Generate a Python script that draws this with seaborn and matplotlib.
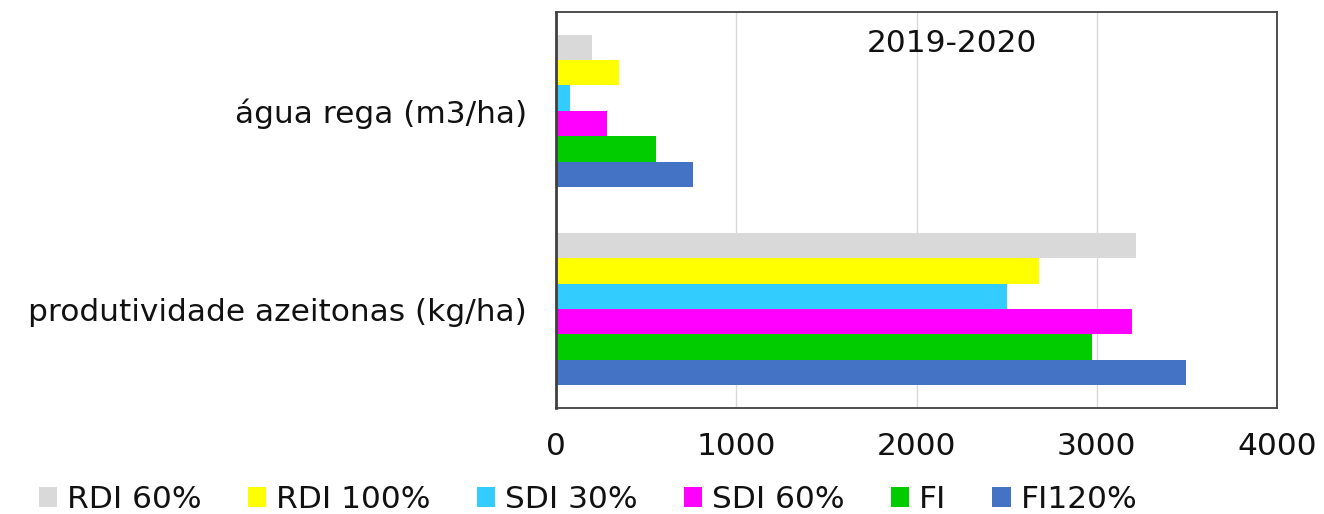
import matplotlib
matplotlib.use("Agg")
import matplotlib.pyplot as plt
import seaborn as sns
import pandas as pd

categories = ["água rega (m3/ha)", "produtividade azeitonas (kg/ha)"]
series = ["RDI 60%", "RDI 100%", "SDI 30%", "SDI 60%", "FI", "FI120%"]
agua_rega = [200, 350, 78, 284, 555, 762]
produtividade = [3218, 2680, 2503, 3196, 2974, 3495]
colors = ["#D9D9D9", "#FFFF00", "#33CCFF", "#FF00FF", "#00CC00", "#4472C4"]
title = "2019-2020"
xticks = [0, 1000, 2000, 3000, 4000]

rows = []
for s, a, p in zip(series, agua_rega, produtividade):
    rows.append({"cat": categories[0], "serie": s, "val": a})
    rows.append({"cat": categories[1], "serie": s, "val": p})
df = pd.DataFrame(rows)

sns.set_theme(style="white")
plt.rcParams["font.family"] = ["DejaVu Sans"]
FS = 22.5

fig = plt.figure(figsize=(13.24, 5.14), dpi=100)
ax = fig.add_axes([0.42, 0.206, 0.5445, 0.771])

sns.barplot(data=df, y="cat", x="val", hue="serie", order=categories,
            hue_order=series, palette=colors, orient="h", width=0.77,
            saturation=1, ax=ax, legend=True, edgecolor="none", linewidth=0)

ax.set_xlim(0, 4000)
ax.set_xticks(xticks)
ax.set_xticklabels([str(t) for t in xticks], fontsize=FS, color="#111111")
ax.tick_params(axis="y", labelsize=FS, length=0, pad=21, labelcolor="#111111")
ax.tick_params(axis="x", length=0, pad=17)
ax.set_xlabel("")
ax.set_ylabel("")
ax.xaxis.grid(True, color="#D9D9D9", linewidth=1)
ax.set_axisbelow(True)
for sp in ax.spines.values():
    sp.set_color("#404040")
    sp.set_linewidth(1.3)
ax.spines["left"].set_linewidth(2)

ax.text(0.549, 0.92, title, transform=ax.transAxes, ha="center", va="center",
        fontsize=FS, color="#111111")

handles, labels = ax.get_legend_handles_labels()
ax.get_legend().remove()
fig.legend(handles, labels, loc="lower left", bbox_to_anchor=(0.008, -0.055),
           ncol=6, frameon=False, fontsize=FS, handlelength=0.6, handleheight=0.6,
           handletextpad=0.3, columnspacing=1.48, labelcolor="#111111")

fig.savefig("out.png", dpi=100)
